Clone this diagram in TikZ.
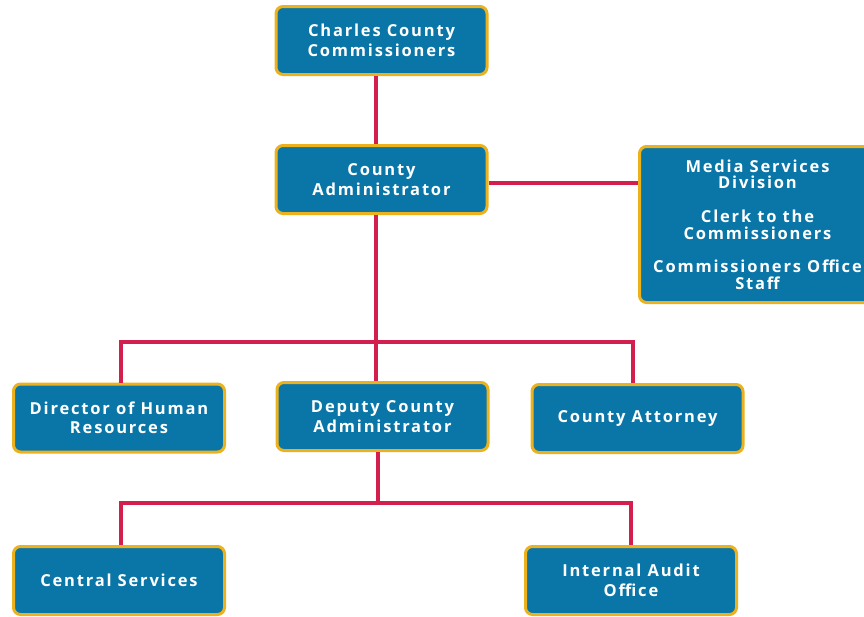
\documentclass[tikz,border=0pt]{standalone}
\usepackage{fontspec}
\setmainfont{Open Sans}[LetterSpace=11]
\definecolor{boxblue}{HTML}{0A76A8}
\definecolor{boxgold}{HTML}{EBB21E}
\definecolor{linkred}{HTML}{D21F4E}
\begin{document}
\begin{tikzpicture}[x=1pt,y=-1pt,
  unit/.style={draw=boxgold, fill=boxblue, line width=3pt, rounded corners=7pt,
    text=white, font=\fontsize{16.5}{19.5}\selectfont\bfseries, align=center,
    minimum width=211pt, minimum height=68pt, inner sep=0pt},
  link/.style={draw=linkred, line width=3.4pt}]
\useasboundingbox (0,0) rectangle (864,616);

\node[unit] (ccc) at (381.5,40.5) {Charles County\\Commissioners};
\node[unit] (adm) at (381.5,179.5) {County\\Administrator};
\node[unit, minimum width=236pt, minimum height=156pt, anchor=west,
  font=\fontsize{16.5}{16.8}\selectfont\bfseries] (media) at (638,224.5)
  {Media Services\\Division\\[16.5pt]Clerk to the\\Commissioners\\[16.5pt]Commissioners Office\\Staff};
\node[unit] (hr) at (119,418) {Director of Human\\Resources};
\node[unit] (dep) at (382.5,416.5) {Deputy County\\Administrator};
\node[unit] (att) at (637.5,418.5) {County Attorney};
\node[unit, minimum height=68pt] (cs) at (119,580.5) {Central Services};
\node[unit, minimum height=68pt] (ia) at (631,580.5) {Internal Audit\\Office};

% branch points of the two tees
\coordinate (b1) at (376,342);
\coordinate (b2) at (378,503);

% connectors
\draw[link] (ccc.south -| b1) -- (adm.north -| b1);
\draw[link] (adm.east |- 0,183) -- (media.west |- 0,183);
\draw[link] (adm.south -| b1) -- (b1);
\draw[link] (hr.north -| 121,0) |- (b1) -| (att.north -| 633,0);
\draw[link] (b1) -- (dep.north -| b1);
\draw[link] (dep.south -| b2) -- (b2);
\draw[link] (cs.north -| 121,0) |- (b2) -| (ia.north);
\end{tikzpicture}
\end{document}
